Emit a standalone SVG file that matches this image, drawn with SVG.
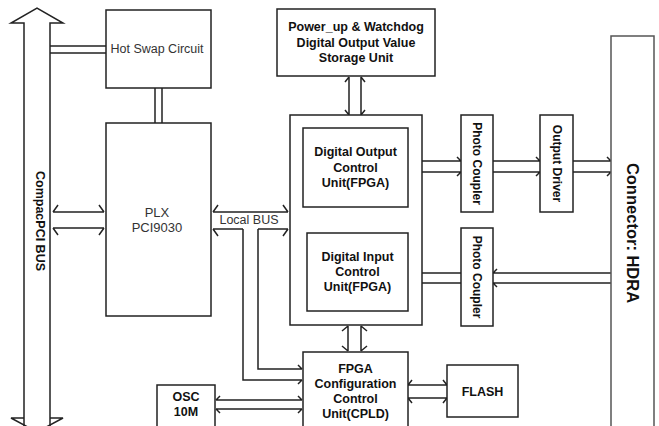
<svg xmlns="http://www.w3.org/2000/svg" width="659" height="426" viewBox="0 0 659 426">
<style>
.box{fill:#fff;stroke:#222;stroke-width:1.5}
.ln{fill:none;stroke:#222;stroke-width:1.5}
.b{font-family:"Liberation Sans",Arial,sans-serif;font-weight:bold;font-size:12.5px;fill:#111;text-anchor:middle}
.r{font-family:"Liberation Sans",Arial,sans-serif;font-size:12.5px;fill:#333;text-anchor:middle}
.v{font-family:"Liberation Sans",Arial,sans-serif;font-weight:bold;font-size:12px;fill:#111;text-anchor:middle;dominant-baseline:central}
</style>
<rect width="659" height="426" fill="#fff"/>
<g id="connectors">
<path class="ln" d="M24,430 V23 H11 L37,8 L63,23 H50 V430"/>
<path class="ln" d="M24,418 H11 L37,432 L63,418 H50"/>
<path class="ln" d="M50,46 H106 M50,53 H106"/>
<path class="ln" d="M155,88 V123 M162,88 V123"/>
<path class="ln" d="M53,212 H104 M53,228 H104 M58,205 L53,212 M58,235 L53,228 M99,205 L104,212 M99,235 L104,228"/>
<path class="ln" d="M213,212 H288 M213,229 H243 M258,229 H288 M218,205 L213,212 M218,236 L213,229 M283,205 L288,212 M283,236 L288,229"/>
<path class="ln" d="M243,229 V380 H302 M258,229 V369 H302 M298,365 L302,369 M298,384 L302,380"/>
<path class="ln" d="M349,77 V115 M361,77 V115 M345,82 L349,77 M365,82 L361,77 M345,110 L349,115 M365,110 L361,115"/>
<path class="ln" d="M348,326 V351 M361,326 V351 M342,331 L348,326 M367,331 L361,326 M342,346 L348,351 M367,346 L361,351"/>
<path class="ln" d="M408,161 H461 M408,172 H461 M457,157 L461,161 M457,176 L461,172"/>
<path class="ln" d="M493,161 H540 M493,172 H540 M536,157 L540,161 M536,176 L540,172"/>
<path class="ln" d="M573,161 H611 M573,172 H611 M607,157 L611,161 M607,176 L611,172"/>
<path class="ln" d="M611,273 H493 M611,283 H493 M497,269 L493,273 M497,287 L493,283"/>
<path class="ln" d="M461,273 H408 M461,283 H408 M412,269 L408,273 M412,287 L408,283"/>
<path class="ln" d="M216,400 H302 M216,409 H302 M220,396 L216,400 M220,413 L216,409 M298,396 L302,400 M298,413 L302,409"/>
<path class="ln" d="M408,385 H447 M408,398 H447 M412,380 L408,385 M412,403 L408,398 M443,380 L447,385 M443,403 L447,398"/>
</g>
<g id="hotswap">
<rect class="box" x="106" y="10" width="105" height="78"/>
<text class="r" x="157" y="53">Hot Swap Circuit</text>
</g>
<g id="plx">
<rect class="box" x="106" y="123" width="105" height="193"/>
<text class="r" x="157" y="217" style="font-size:13px">PLX</text>
<text class="r" x="157" y="232" style="font-size:13px">PCI9030</text>
</g>
<text class="r" x="249" y="224">Local BUS</text>
<g id="powerup">
<rect class="box" x="277" y="9" width="158" height="67"/>
<text class="b" x="356" y="31">Power_up &amp; Watchdog</text>
<text class="b" x="356" y="47">Digital Output Value</text>
<text class="b" x="356" y="62">Storage Unit</text>
</g>
<g id="fpga">
<rect class="box" x="290" y="115" width="132" height="210"/>
</g>
<g id="do">
<rect class="box" x="303" y="128" width="105" height="79"/>
<text class="b" x="355.5" y="156">Digital Output</text>
<text class="b" x="355.5" y="172">Control</text>
<text class="b" x="355.5" y="187">Unit(FPGA)</text>
</g>
<g id="di">
<rect class="box" x="307" y="233" width="101" height="78"/>
<text class="b" x="357.5" y="261">Digital Input</text>
<text class="b" x="357.5" y="276">Control</text>
<text class="b" x="357.5" y="291">Unit(FPGA)</text>
</g>
<g id="pc1">
<rect class="box" x="461" y="115" width="32" height="97"/>
<text class="v" transform="translate(477,163.5) rotate(90)">Photo Coupler</text>
</g>
<g id="od">
<rect class="box" x="540" y="115" width="33" height="97"/>
<text class="v" transform="translate(556.5,163.5) rotate(90)">Output Driver</text>
</g>
<g id="pc2">
<rect class="box" x="461" y="228" width="32" height="98"/>
<text class="v" transform="translate(477,277) rotate(90)">Photo Coupler</text>
</g>
<g id="connector">
<rect x="611" y="36" width="43" height="400" fill="#fff" stroke="#555" stroke-width="1.5"/>
<text class="v" transform="translate(633,233) rotate(90)" style="font-size:16.5px">Connector: HDRA</text>
</g>
<g id="bus">
<text class="v" transform="translate(40,221) rotate(90)" style="font-size:12.5px">CompacPCI BUS</text>
</g>
<g id="config">
<rect class="box" x="303" y="352" width="105" height="80"/>
<text class="b" x="355.5" y="373">FPGA</text>
<text class="b" x="355.5" y="388">Configuration</text>
<text class="b" x="355.5" y="403">Control</text>
<text class="b" x="355.5" y="418">Unit(CPLD)</text>
</g>
<g id="flash">
<rect class="box" x="447" y="365" width="71" height="52"/>
<text class="b" x="482.5" y="396">FLASH</text>
</g>
<g id="osc">
<rect class="box" x="157" y="385" width="58" height="45"/>
<text class="b" x="186" y="401">OSC</text>
<text class="b" x="186" y="416">10M</text>
</g>
</svg>
